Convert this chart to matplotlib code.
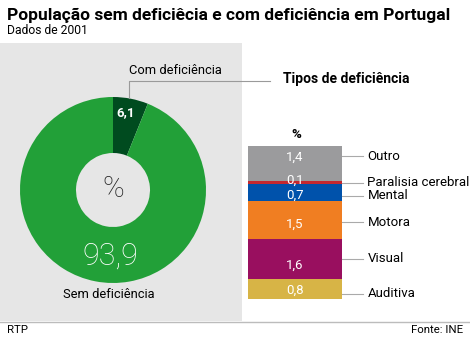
import matplotlib.pyplot as plt
from matplotlib.patches import Rectangle

# dados
pie_labels = ["Com deficiência", "Sem deficiência"]
pie_values = [6.1, 93.9]
pie_colors = ["#004b1f", "#22a038"]

tipos = ["Auditiva", "Visual", "Motora", "Mental", "Paralisia cerebral", "Outro"]
tipos_values = [0.8, 1.6, 1.5, 0.7, 0.1, 1.4]
tipos_text = ["0,8", "1,6", "1,5", "0,7", "0,1", "1,4"]
tipos_colors = ["#d7b446", "#990f5f", "#f07e22", "#0052ab", "#c4282f", "#9b9b9d"]
# deslocamento dos numeros e das etiquetas (em unidades do eixo)
text_shift = [-0.07, -0.26, -0.18, -0.13, 0.07, 0.26]
label_shift = [-0.2, -0.01, -0.1, -0.14, -0.02, 0.3]

W, H = 470, 341
plt.rcParams['font.family'] = ['Roboto', 'DejaVu Sans']
fig = plt.figure(figsize=(W / 100, H / 100), dpi=100)
fig.patch.set_facecolor("white")


def fx(px):
    return px / W


def fy(py):
    return 1 - py / H


# fundo cinzento e linha de rodape
fig.patches.append(Rectangle((0, fy(321)), fx(242), fy(43) - fy(321),
                             transform=fig.transFigure, facecolor="#e6e6e6",
                             edgecolor="none", zorder=-5))
fig.add_artist(plt.Line2D([0, 1], [fy(321.5), fy(321.5)], color="#bcbcbc",
                          lw=1, transform=fig.transFigure))

fig.text(fx(7), fy(15), "População sem deficiêcia e com deficiência em Portugal",
         fontsize=12.5, fontweight="bold", va="center", ha="left")
fig.text(fx(7), fy(31), "Dados de 2001", fontsize=8.7, va="center", ha="left")

# donut
r = 93
ax = fig.add_axes([fx(113 - r), fy(190 + r), fx(2 * r), fx(2 * r) * W / H])
ax.pie(pie_values, colors=pie_colors, startangle=90, counterclock=False,
       radius=1, wedgeprops=dict(width=1 - 37 / 93, edgecolor="none"))
ax.set_xlim(-1, 1)
ax.set_ylim(-1, 1)
ax.set_aspect("equal")
ax.axis("off")

fig.text(fx(126), fy(113), "6,1", color="white", fontsize=9.5, fontweight="bold",
         ha="center", va="center", zorder=5)
fig.text(fx(113), fy(189), "%", fontsize=21, fontweight="light", ha="center",
         va="center", color="#222222", zorder=5)
fig.text(fx(110), fy(256), "93,9", color="white", fontsize=22, fontweight="light",
         ha="center", va="center", zorder=5)
fig.text(fx(109), fy(295), pie_labels[1], fontsize=9.3, ha="center", va="center")
fig.text(fx(175), fy(70), pie_labels[0], fontsize=9.3, ha="center", va="center")
fig.add_artist(plt.Line2D([fx(129), fx(129), fx(270)], [fy(98), fy(80.5), fy(80.5)],
                          color="#9a9a9a", lw=0.8, transform=fig.transFigure))
fig.text(fx(283), fy(79), "Tipos de deficiência", fontsize=10, fontweight="bold",
         ha="left", va="center")

# barra empilhada
bx = fig.add_axes([fx(248), fy(298.5), fx(94), fy(146) - fy(298.5)])
bottom = 0
for v, c, t, ts, lab, ls in zip(tipos_values, tipos_colors, tipos_text,
                                text_shift, tipos, label_shift):
    bx.bar(0, v, bottom=bottom, width=1, color=c, edgecolor="none")
    mid = bottom + v / 2
    bx.text(0, mid + ts, t, color="white", fontsize=9.5, ha="center", va="center")
    bx.plot([0.5, 0.72], [mid + ls, mid + ls], color="#aaaaaa", lw=0.8,
            clip_on=False)
    bx.text(0.77, mid + ls, lab, fontsize=9.5, ha="left", va="center",
            clip_on=False)
    bottom += v
bx.set_xlim(-0.5, 0.5)
bx.set_ylim(0, bottom)
bx.axis("off")

fig.text(fx(296), fy(134), "%", fontsize=9.5, fontweight="bold", ha="center",
         va="center")
fig.text(fx(7), fy(330), "RTP", fontsize=8.2, ha="left", va="center")
fig.text(fx(463), fy(330), "Fonte: INE", fontsize=8.2, ha="right", va="center")

fig.savefig("out.png", dpi=100)
